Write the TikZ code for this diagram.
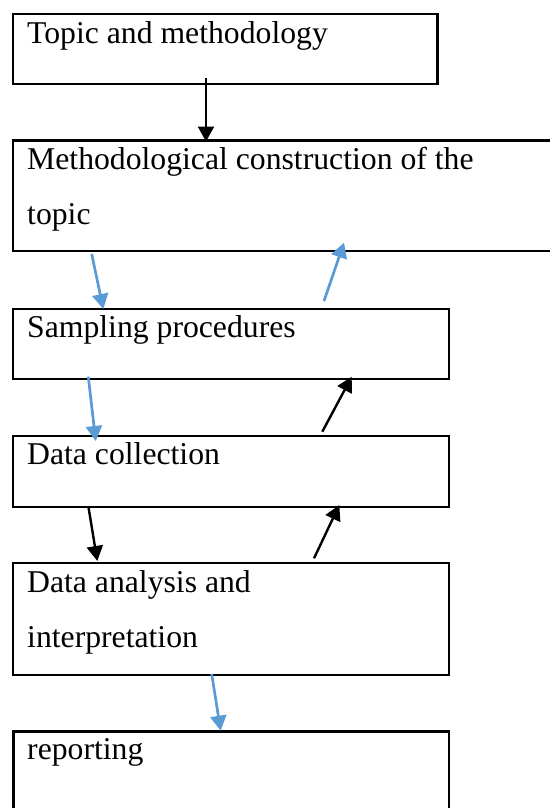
\documentclass[tikz,border=0pt]{standalone}
\usepackage{fontspec}
\setmainfont{Liberation Serif}
\usetikzlibrary{arrows.meta}
\definecolor{arrowblue}{HTML}{5B9BD5}
\begin{document}
\begin{tikzpicture}[x=1pt,y=-1pt,
  box/.style={draw=black, line width=2.5pt, inner sep=0pt, anchor=north west},
  txt/.style={anchor=base west, inner sep=0pt, font=\fontsize{31.7}{38}\selectfont},
  blk/.style={line width=2.4pt, draw=black, -{Triangle[length=15pt,width=16pt]}},
  blu/.style={line width=2.7pt, draw=arrowblue, -{Triangle[length=15pt,width=16pt]}}]
\useasboundingbox (0,0) rectangle (549,808);
% boxes
\node[box, minimum width=424.5pt, minimum height=70pt]  (b1) at (11.7,12.7) {};
\node[box, minimum width=545pt,   minimum height=110.5pt] (b2) at (11.7,139.3) {};
\node[box, minimum width=435.8pt, minimum height=70pt]  (b3) at (11.7,307.7) {};
\node[box, minimum width=435.8pt, minimum height=71pt]  (b4) at (11.7,434.5) {};
\node[box, minimum width=435.8pt, minimum height=112pt] (b5) at (11.7,561.7) {};
\node[box, minimum width=435.4pt, minimum height=95pt]  (b6) at (12.3,730) {};
% texts
\node[txt] (t1)  at (27,43.5)  {Topic and methodology};
\node[txt] (t2a) at (27,169.5) {Methodological construction of the};
\node[txt] (t2b) at (27,224.5) {topic};
\node[txt] (t3)  at (27,337.3) {Sampling procedures};
\node[txt] (t4)  at (27,464.3) {Data collection};
\node[txt] (t5a) at (27,592)   {Data analysis and};
\node[txt] (t5b) at (27,647)   {interpretation};
\node[txt] (t6)  at (27,759.3) {reporting};
% connector end points
\coordinate (a1s) at (206,78.3);   \coordinate (a1e) at (206,141.5);
\coordinate (a2s) at (91.7,254);   \coordinate (a2e) at (103.3,309);
\coordinate (a3s) at (88.3,376.7); \coordinate (a3e) at (95.7,441);
\coordinate (a4s) at (324,301);    \coordinate (a4e) at (344,242.7);
\coordinate (a5s) at (322.3,431.7);\coordinate (a5e) at (351.7,376.7);
\coordinate (a6s) at (88.3,506);   \coordinate (a6e) at (97.3,561);
\coordinate (a7s) at (314,558.3);  \coordinate (a7e) at (339.3,505);
\coordinate (a8s) at (211.7,674);  \coordinate (a8e) at (220.7,730.7);
% connectors
\draw[blk] (a1s) -- (a1e);
\draw[blu] (a2s) -- (a2e);
\draw[blu] (a3s) -- (a3e);
\draw[blu] (a4s) -- (a4e);
\draw[blk] (a5s) -- (a5e);
\draw[blk] (a6s) -- (a6e);
\draw[blk] (a7s) -- (a7e);
\draw[blu] (a8s) -- (a8e);
\end{tikzpicture}
\end{document}
